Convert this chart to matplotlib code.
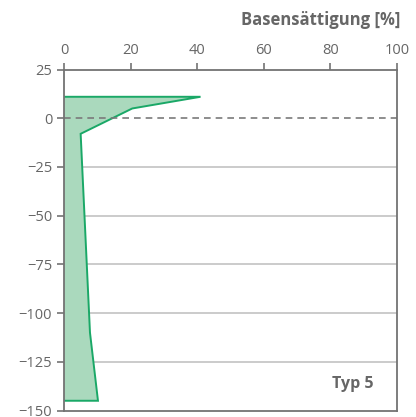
import matplotlib
matplotlib.use("Agg")
import matplotlib.pyplot as plt

# Data: base saturation [%] vs depth
depth = [11, 5, -8, -110, -145]
saturation = [41, 20.5, 5, 7.8, 10.2]

x_ticks = [0, 20, 40, 60, 80, 100]
y_ticks = [25, 0, -25, -50, -75, -100, -125, -150]
grid_levels = [-25, -50, -75, -100, -125]
title = "Basensättigung [%]"
label = "Typ 5"

plt.rcParams['font.family'] = ['Open Sans', 'DejaVu Sans']
txt = '#666666'
spine = '#737373'

fig = plt.figure(figsize=(4.16, 4.17), dpi=100)
ax = fig.add_axes([64/416, 1-410.5/417, (397-64)/416, (410.5-69.5)/417])

ax.set_xlim(0, 100)
ax.set_ylim(-150, 25)

for g in grid_levels:
    ax.axhline(g, color='#bdbdbd', lw=1.1, zorder=1)

# polygon closed to x = 0
px = [0] + saturation + [0]
py = [depth[0]] + depth + [depth[-1]]
ax.fill(px, py, color='#aad9bd', lw=0, zorder=2)
ax.plot(px, py, color='#1aa867', lw=1.4, zorder=3, solid_joinstyle='miter')

ax.axhline(0, color='#7a7a7a', lw=1.2, ls=(0, (4, 3)), zorder=4)

ax.xaxis.tick_top()
ax.set_xticks(x_ticks)
ax.set_yticks(y_ticks)
ax.tick_params(axis='both', direction='out', length=5, width=1.2, colors=spine,
               labelcolor=txt, labelsize=10.5, pad=3.5)
for s in ax.spines.values():
    s.set_color(spine)
    s.set_linewidth(1.3)
    s.set_zorder(5)

fig.text(400/416, 1-20/417, title, ha='right', va='center', fontsize=12,
         fontweight='bold', color=txt)
fig.text(353/416, 1-384/417, label, ha='center', va='center', fontsize=11.5,
         fontweight='bold', color=txt)

fig.savefig('out.png', dpi=100)
